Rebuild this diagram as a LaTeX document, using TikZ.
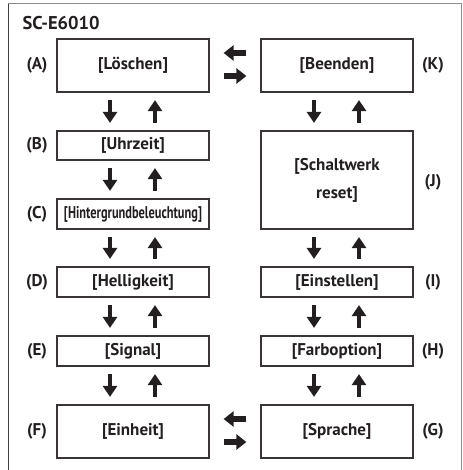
\documentclass[tikz,border=0pt]{standalone}
\usepackage{fontspec}
\setmainfont{PT Sans}
\usepackage{graphicx}
\usetikzlibrary{arrows.meta}
\definecolor{ink}{HTML}{231F20}
\begin{document}
\begin{tikzpicture}[x=1pt,y=-1pt,
  every node/.style={text=ink},
  txt/.style={font=\fontsize{17}{28}\selectfont\bfseries},
  box/.style={txt, draw=ink!90, line width=1.2pt, minimum width=152pt, inner sep=0pt, align=center},
  lab/.style={txt},
  varr/.style={draw=ink, line width=4.5pt, -{Triangle[length=11pt,width=14pt]}, shorten <=7.5pt, shorten >=7.5pt},
  harr/.style={draw=ink, line width=6pt, -{Triangle[length=10pt,width=15pt]}, shorten <=14pt, shorten >=14pt}]
\useasboundingbox (0,0) rectangle (462,470);
% frame
\draw[black!45, line width=1pt] (8,4) -- (461,4) -- (461,470);
\draw[black!75, line width=1pt] (8,4) -- (8,470);
\node[anchor=west, font=\fontsize{18.5}{20}\selectfont\bfseries] (title) at (19,23) {SC-E6010};
% boxes left
\node[box, minimum height=53pt] (A) at (133,65.5) {[Löschen]};
\node[box, minimum height=29pt] (B) at (133,145.5) {[Uhrzeit]};
\node[box, minimum height=30pt] (C) at (133,214) {\resizebox{138pt}{\height}{[Hintergrundbeleuchtung]}};
\node[box, minimum height=30pt] (D) at (133,282) {[Helligkeit]};
\node[box, minimum height=30pt] (E) at (133,351) {[Signal]};
\node[box, minimum height=53pt] (F) at (133,431.5) {[Einheit]};
% boxes right
\node[box, minimum height=53pt] (K) at (337,65.5) {[Beenden]};
\node[box, minimum height=98pt] (J) at (337,180) {[Schaltwerk\\reset]};
\node[box, minimum height=30pt] (I) at (337,282) {[Einstellen]};
\node[box, minimum height=30pt] (H) at (337,351) {[Farboption]};
\node[box, minimum height=53pt] (G) at (337,431.5) {[Sprache]};
% labels
\node[lab] (lA) at (37,65.5) {(A)};
\node[lab] (lB) at (37,145.5) {(B)};
\node[lab] (lC) at (37,214) {(C)};
\node[lab] (lD) at (37,282) {(D)};
\node[lab] (lE) at (37,351) {(E)};
\node[lab] (lF) at (37,431.5) {(F)};
\node[lab] (lK) at (433,65.5) {(K)};
\node[lab] (lJ) at (433,182) {(J)};
\node[lab] (lI) at (433,282) {(I)};
\node[lab] (lH) at (433,351) {(H)};
\node[lab] (lG) at (433,431.5) {(G)};
% vertical arrows
\foreach \u/\l in {A/B,B/C,C/D,D/E,E/F,K/J,J/I,I/H,H/G} {
  \draw[varr] ([xshift=-23pt]\u.south) -- ([xshift=-23pt]\l.north);
  \draw[varr] ([xshift=22pt]\l.north) -- ([xshift=22pt]\u.south);
}
% horizontal arrows
\draw[harr] ([yshift=12.5pt]K.west) -- ([yshift=12.5pt]A.east);
\draw[harr] ([yshift=-10.5pt]A.east) -- ([yshift=-10.5pt]K.west);
\draw[harr] ([yshift=12.5pt]G.west) -- ([yshift=12.5pt]F.east);
\draw[harr] ([yshift=-10.5pt]F.east) -- ([yshift=-10.5pt]G.west);
\end{tikzpicture}
\end{document}
